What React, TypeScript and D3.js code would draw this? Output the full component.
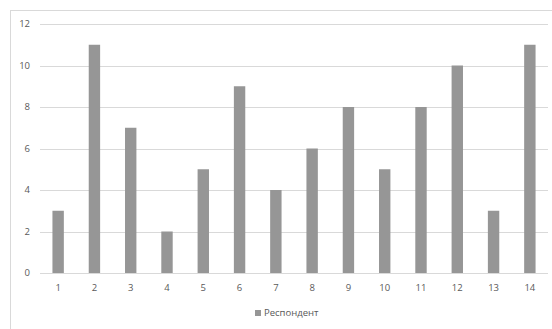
import React from "react";
import * as d3 from "d3";

const categories = ["1","2","3","4","5","6","7","8","9","10","11","12","13","14"];
const values = [3, 11, 7, 2, 5, 9, 4, 6, 8, 5, 8, 10, 3, 11];
const yTicks = [0, 2, 4, 6, 8, 10, 12];
const seriesName = "Респондент";

export default function App() {
  const W = 552, H = 329;
  const x = d3.scaleBand<string>().domain(categories).range([40, 548]).paddingInner(0.686).paddingOuter(0.343);
  const y = d3.scaleLinear().domain([0, 12]).range([273, 24]);
  const font = "'Open Sans', 'Liberation Sans', sans-serif";
  return (
    <svg width={W} height={H} style={{ position: "absolute", left: 0, top: 0 }}>
      <rect x={0} y={0} width={W} height={H} fill="#fff" />
      <rect x={10.5} y={10.5} width={W + 10} height={H + 10} fill="none" stroke="#d9d9d9" strokeWidth={1} />
      {yTicks.map(t => (
        <g key={t}>
          <line x1={40} x2={548} y1={Math.round(y(t)) + 0.5} y2={Math.round(y(t)) + 0.5} stroke="#d9d9d9" strokeWidth={1} />
          <text x={30} y={y(t)} dy="0.35em" textAnchor="end" fontSize={9.5} fill="#595959" fontFamily={font}>{t}</text>
        </g>
      ))}
      {categories.map((c, i) => (
        <g key={c}>
          <rect x={x(c)} y={y(values[i])} width={x.bandwidth()} height={y(0) - y(values[i])} fill="#969696" />
          <text x={(x(c) as number) + x.bandwidth() / 2} y={288} dy="0.35em" textAnchor="middle" fontSize={9.5} fill="#595959" fontFamily={font}>{c}</text>
        </g>
      ))}
      <rect x={255} y={310} width={6} height={6} fill="#969696" />
      <text x={264} y={313} dy="0.35em" fontSize={9.5} fill="#595959" fontFamily={font}>{seriesName}</text>
    </svg>
  );
}
